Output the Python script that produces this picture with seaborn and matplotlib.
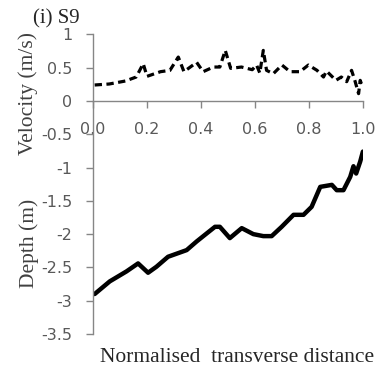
import matplotlib
matplotlib.use("Agg")
import matplotlib.pyplot as plt
import seaborn as sns
import pandas as pd

# Velocity profile (m/s)
vel_x = [0.006, 0.06, 0.12, 0.16, 0.186, 0.2, 0.25, 0.285, 0.316, 0.337, 0.384, 0.408,
         0.446, 0.47, 0.49, 0.51, 0.55, 0.59, 0.606, 0.618, 0.631, 0.643, 0.668, 0.70,
         0.73, 0.767, 0.798, 0.83, 0.854, 0.865, 0.90, 0.92, 0.94, 0.958, 0.97, 0.984,
         0.99, 0.996]
vel_y = [0.24, 0.255, 0.30, 0.36, 0.56, 0.37, 0.44, 0.46, 0.66, 0.44, 0.58, 0.44,
         0.51, 0.51, 0.76, 0.49, 0.51, 0.47, 0.54, 0.42, 0.76, 0.46, 0.41, 0.54,
         0.44, 0.44, 0.54, 0.46, 0.36, 0.45, 0.31, 0.36, 0.29, 0.46, 0.31, 0.11,
         0.31, 0.24]

# Bed depth (m)
dep_x = [0.006, 0.062, 0.124, 0.167, 0.204, 0.235, 0.278, 0.347, 0.384, 0.421, 0.452,
         0.47, 0.507, 0.551, 0.594, 0.631, 0.662, 0.699, 0.743, 0.78, 0.81, 0.842,
         0.885, 0.903, 0.928, 0.953, 0.965, 0.975, 0.99, 1.0]
dep_y = [-2.90, -2.71, -2.56, -2.44, -2.58, -2.49, -2.34, -2.24, -2.11, -1.99, -1.89,
         -1.89, -2.06, -1.91, -2.00, -2.03, -2.03, -1.89, -1.71, -1.71, -1.59, -1.29,
         -1.26, -1.34, -1.34, -1.14, -0.98, -1.09, -0.91, -0.76]

x_ticks = [0.0, 0.2, 0.4, 0.6, 0.8, 1.0]
x_ticklabels = ["0.0", "0.2", "0.4", "0.6", "0.8", "1.0"]
y_ticks = [1, 0.5, 0, -0.5, -1, -1.5, -2, -2.5, -3, -3.5]
y_ticklabels = ["1", "0.5", "0", "-0.5", "-1", "-1.5", "-2", "-2.5", "-3", "-3.5"]

sns.set_style("ticks")
plt.rcParams["font.family"] = ["DejaVu Sans"]

fig = plt.figure(figsize=(3.85, 3.74), dpi=100)
ax = fig.add_axes([0.2416, 0.107, 0.701, 0.801])

vel_df = pd.DataFrame({"x": vel_x, "y": vel_y})
dep_df = pd.DataFrame({"x": dep_x, "y": dep_y})

sns.lineplot(data=vel_df, x="x", y="y", ax=ax, color="black", linewidth=2.3,
             linestyle=(0, (2.3, 1.4)), sort=False)
sns.lineplot(data=dep_df, x="x", y="y", ax=ax, color="black", linewidth=3.2,
             sort=False)

ax.set_xlim(0, 1.0)
ax.set_ylim(-3.5, 1.0)
ax.set_xticks(x_ticks)
ax.set_xticklabels(x_ticklabels)
ax.set_yticks(y_ticks)
ax.set_yticklabels(y_ticklabels)

gray = "#868686"
ax.spines["top"].set_visible(False)
ax.spines["right"].set_visible(False)
ax.spines["bottom"].set_position(("data", 0))
for s in ["left", "bottom"]:
    ax.spines[s].set_color(gray)
    ax.spines[s].set_linewidth(1.0)

ax.tick_params(axis="both", colors=gray, labelcolor="#595959", labelsize=11.5,
               length=5, width=1.0, direction="out")
ax.tick_params(axis="x", pad=10)
ax.tick_params(axis="y", pad=10)

ax.set_xlabel("")
ax.set_ylabel("")

serif = ["Liberation Serif", "DejaVu Serif"]
fig.text(0.086, 0.950, "(i) S9", family=serif, fontsize=15, ha="left", va="center")
fig.text(0.073, 0.749, "Velocity (m/s)", family=serif, fontsize=15.5, rotation=90,
         ha="center", va="center", color="#404040")
fig.text(0.075, 0.349, "Depth (m)", family=serif, fontsize=15.5, rotation=90,
         ha="center", va="center", color="#404040")
fig.text(0.615, 0.043, "Normalised  transverse distance", family=serif, fontsize=15.5,
         ha="center", va="center")

fig.savefig("out.png", dpi=100)
